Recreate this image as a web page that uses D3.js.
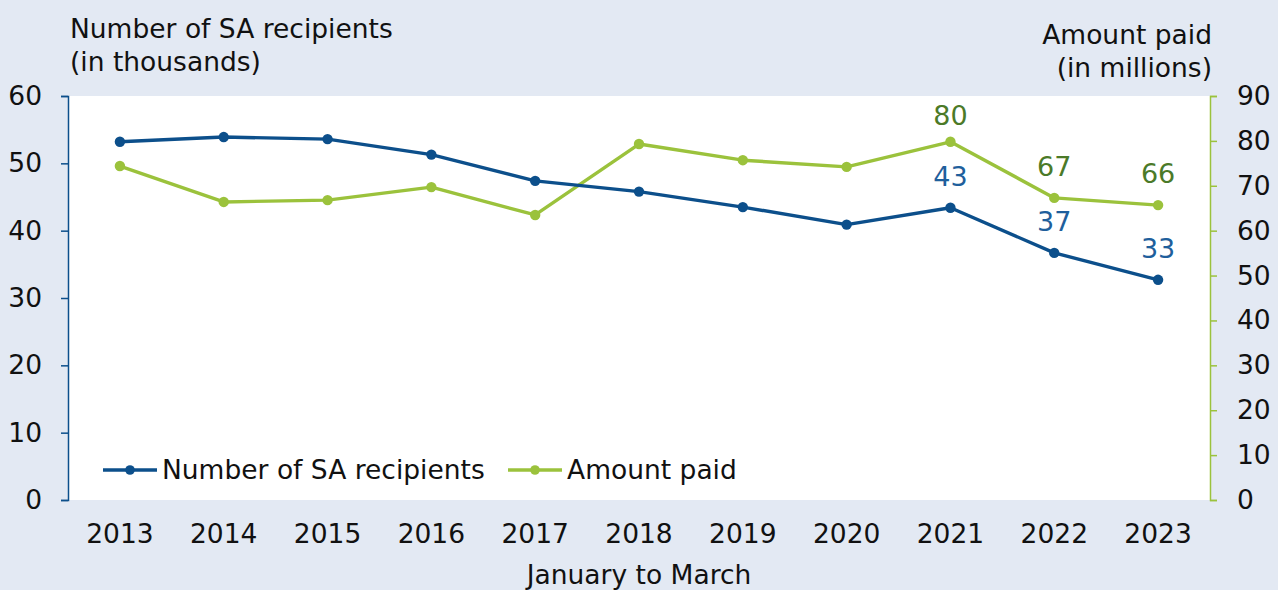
<!DOCTYPE html>
<html><head><meta charset="utf-8">
<script src="https://cdn.jsdelivr.net/npm/d3@7"></script>
<style>
html,body{margin:0;padding:0;background:#e3e9f3;}
text{font-family:"DejaVu Sans",Verdana,sans-serif;}
</style></head>
<body>
<svg id="c" width="1278" height="590"></svg>
<script>
const years = ["2013","2014","2015","2016","2017","2018","2019","2020","2021","2022","2023"];
const recipients = [53.2,53.9,53.6,51.3,47.4,45.8,43.5,40.9,43.4,36.7,32.7];
const amountPaid = [74.4,66.4,66.8,69.7,63.5,79.3,75.7,74.2,79.8,67.3,65.7];
const recipientLabels = {"2021":"43","2022":"37","2023":"33"};
const amountLabels = {"2021":"80","2022":"67","2023":"66"};
const leftTicks = [0,10,20,30,40,50,60];
const rightTicks = [0,10,20,30,40,50,60,70,80,90];

const blue = "#0c4f8b", green = "#9bc23c", blueLbl = "#1f5f9c", greenLbl = "#4b7a28";
const svg = d3.select("#c");
const L = 68, R = 1210, T = 96, B = 500;
svg.append("rect").attr("width",1278).attr("height",590).attr("fill","#e3e9f3");
svg.append("rect").attr("x",L).attr("y",T).attr("width",R-L).attr("height",B-T).attr("fill","#fff");

const x = d3.scaleBand().domain(years).range([L,R]);
const cx = d => x(d)+x.bandwidth()/2;
const yL = d3.scaleLinear().domain([0,60]).range([B,T]);
const yR = d3.scaleLinear().domain([0,90]).range([B,T]);

const fs = "26.5px";
// left axis
const la = svg.append("g").attr("transform",`translate(${L},0)`)
  .call(d3.axisLeft(yL).tickValues(leftTicks).tickSize(7).tickPadding(19));
la.select(".domain").attr("stroke",blue).attr("stroke-width",1.5);
la.selectAll(".tick line").attr("stroke",blue).attr("stroke-width",1.5);
la.selectAll("text").attr("font-size",fs).attr("fill","#111").attr("font-family","DejaVu Sans");
// right axis
const ra = svg.append("g").attr("transform",`translate(${R},0)`)
  .call(d3.axisRight(yR).tickValues(rightTicks).tickSize(7).tickPadding(20));
ra.select(".domain").attr("stroke",green).attr("stroke-width",1.5);
ra.selectAll(".tick line").attr("stroke",green).attr("stroke-width",1.5);
ra.selectAll("text").attr("font-size",fs).attr("fill","#111").attr("font-family","DejaVu Sans");
// x axis labels
const xa = svg.append("g").attr("transform",`translate(0,${B})`)
  .call(d3.axisBottom(x).tickSize(0).tickPadding(24));
xa.select(".domain").remove();
xa.selectAll("text").attr("font-size",fs).attr("fill","#111").attr("font-family","DejaVu Sans");

// titles
svg.append("text").attr("x",70).attr("y",38).attr("font-size",fs).attr("fill","#111").text("Number of SA recipients");
svg.append("text").attr("x",70).attr("y",71).attr("font-size",fs).attr("fill","#111").text("(in thousands)");
svg.append("text").attr("x",1212).attr("y",44).attr("text-anchor","end").attr("font-size",fs).attr("fill","#111").text("Amount paid");
svg.append("text").attr("x",1212).attr("y",77).attr("text-anchor","end").attr("font-size",fs).attr("fill","#111").text("(in millions)");
svg.append("text").attr("x",(L+R)/2).attr("y",584).attr("text-anchor","middle").attr("font-size",fs).attr("fill","#111").text("January to March");

// lines
function drawSeries(vals, scale, color){
  const line = d3.line().x((d,i)=>cx(years[i])).y(d=>scale(d));
  svg.append("path").datum(vals).attr("d",line).attr("fill","none").attr("stroke",color).attr("stroke-width",3.4).attr("stroke-linejoin","round");
  svg.append("g").selectAll("circle").data(vals).join("circle")
    .attr("cx",(d,i)=>cx(years[i])).attr("cy",d=>scale(d)).attr("r",5.2).attr("fill",color);
}
drawSeries(amountPaid, yR, green);
drawSeries(recipients, yL, blue);

// data labels
const lblY = py => Math.max(py-22, 125);
years.forEach((yr,i)=>{
  if(recipientLabels[yr]) svg.append("text").attr("x",cx(yr)).attr("y",lblY(yL(recipients[i]))).attr("text-anchor","middle").attr("font-size","27px").attr("fill",blueLbl).text(recipientLabels[yr]);
  if(amountLabels[yr]) svg.append("text").attr("x",cx(yr)).attr("y",lblY(yR(amountPaid[i]))).attr("text-anchor","middle").attr("font-size","27px").attr("fill",greenLbl).text(amountLabels[yr]);
});

// legend
function legendItem(x0, color, label){
  const y0 = 470;
  svg.append("line").attr("x1",x0).attr("x2",x0+54).attr("y1",y0).attr("y2",y0).attr("stroke",color).attr("stroke-width",3.4);
  svg.append("circle").attr("cx",x0+27).attr("cy",y0).attr("r",4.8).attr("fill",color);
  svg.append("text").attr("x",x0+59).attr("y",y0+9).attr("font-size",fs).attr("fill","#111").text(label);
}
legendItem(103, blue, "Number of SA recipients");
legendItem(508, green, "Amount paid");
</script>
</body></html>
